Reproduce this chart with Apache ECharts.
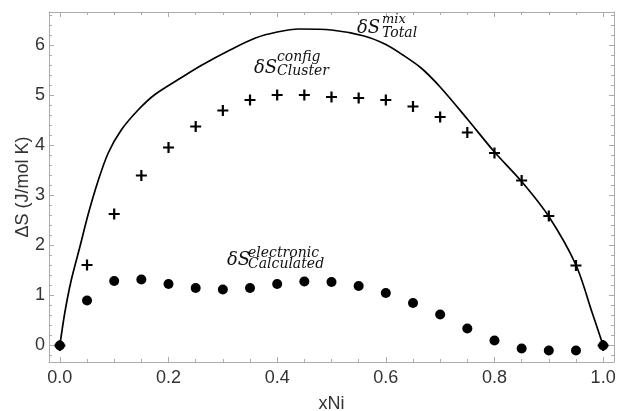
<!DOCTYPE html>
<html>
<head>
<meta charset="utf-8">
<script src="https://cdn.jsdelivr.net/npm/echarts@6/dist/echarts.min.js"></script>
<style>
html,body{margin:0;padding:0;background:#fff;}
#chart{width:619px;height:411px;}
</style>
</head>
<body>
<div id="chart"></div>
<script>
// ---- data ----
const xNi = [0, 0.05, 0.1, 0.15, 0.2, 0.25, 0.3, 0.35, 0.4, 0.45, 0.5, 0.55, 0.6, 0.65, 0.7, 0.75, 0.8, 0.85, 0.9, 0.95, 1.0];
const configCluster = [0, 1.61, 2.63, 3.40, 3.96, 4.38, 4.70, 4.91, 5.01, 5.01, 4.97, 4.95, 4.91, 4.78, 4.57, 4.26, 3.85, 3.30, 2.59, 1.60, 0];
const electronicCalc = [0, 0.90, 1.29, 1.32, 1.23, 1.15, 1.12, 1.15, 1.23, 1.28, 1.27, 1.19, 1.05, 0.85, 0.62, 0.34, 0.10, -0.06, -0.10, -0.10, 0];
const totalX = [0, 0.009, 0.021, 0.037, 0.052, 0.07, 0.089, 0.113, 0.144, 0.175, 0.224, 0.26, 0.315, 0.36, 0.40, 0.44, 0.50, 0.56, 0.60, 0.63, 0.665, 0.70, 0.75, 0.80, 0.85, 0.90, 0.95, 0.98, 1.0];
const totalY = [0, 0.65, 1.31, 1.98, 2.62, 3.28, 3.85, 4.31, 4.71, 5.02, 5.36, 5.60, 5.92, 6.15, 6.27, 6.33, 6.31, 6.19, 6.02, 5.82, 5.55, 5.17, 4.53, 3.87, 3.28, 2.58, 1.61, 0.65, 0];
const xMajorTicks = [0, 0.2, 0.4, 0.6, 0.8, 1.0];
const xMinorTicks = [0.05, 0.1, 0.15, 0.25, 0.3, 0.35, 0.45, 0.5, 0.55, 0.65, 0.7, 0.75, 0.85, 0.9, 0.95];
const yMajorTicks = [0, 1, 2, 3, 4, 5, 6];
const yMinorTicks = [-0.2, 0.2, 0.4, 0.6, 0.8, 1.2, 1.4, 1.6, 1.8, 2.2, 2.4, 2.6, 2.8, 3.2, 3.4, 3.6, 3.8, 4.2, 4.4, 4.6, 4.8, 5.2, 5.4, 5.6, 5.8, 6.2, 6.4, 6.6];
const xTitle = 'xNi';
const yTitle = 'ΔS (J/mol K)';

// ---- layout ----
const XMIN = -0.02, XMAX = 1.02, YMIN = -0.33, YMAX = 6.67;
const AX = '#acacac';
const LBL = '#333';
const SANS = '"Liberation Sans", Arial, sans-serif';
const SERIF = '"DejaVu Serif", serif';

function xa(pos, ticks, len, line, labels) {
  return {
    type: 'value', position: pos, min: XMIN, max: XMAX,
    splitLine: {show: false},
    axisLine: {show: line, onZero: false, lineStyle: {color: AX, width: 1}},
    axisTick: {show: true, inside: true, length: len, customValues: ticks, lineStyle: {color: AX, width: 1}},
    axisLabel: labels ? {show: true, customValues: ticks, formatter: v => v.toFixed(1), fontSize: 18, color: LBL, fontFamily: SANS, margin: 7} : {show: false}
  };
}
function ya(pos, ticks, len, line, labels) {
  return {
    type: 'value', position: pos, min: YMIN, max: YMAX,
    splitLine: {show: false},
    axisLine: {show: line, onZero: false, lineStyle: {color: AX, width: 1}},
    axisTick: {show: true, inside: true, length: len, customValues: ticks, lineStyle: {color: AX, width: 1}},
    axisLabel: labels ? {show: true, customValues: ticks, formatter: v => String(v), fontSize: 18, color: LBL, fontFamily: SANS, margin: 4} : {show: false}
  };
}

const xAxes = [
  Object.assign(xa('bottom', xMajorTicks, 5, true, true), {name: xTitle, nameLocation: 'middle', nameGap: 33, nameMoveOverlap: false, nameTextStyle: {fontSize: 18, color: LBL, fontFamily: SANS}}),
  xa('bottom', xMinorTicks, 3, false, false),
  xa('top', xMajorTicks, 5, true, false),
  xa('top', xMinorTicks, 3, false, false)
];
const yAxes = [
  Object.assign(ya('left', yMajorTicks, 5, true, true), {name: yTitle, nameLocation: 'middle', nameGap: 17, nameMoveOverlap: false, nameRotate: 90, nameTextStyle: {fontSize: 18, color: LBL, fontFamily: SANS}}),
  ya('left', yMinorTicks, 3, false, false),
  ya('right', yMajorTicks, 5, true, false),
  ya('right', yMinorTicks, 3, false, false)
];

const plusPath = 'path://M4,0 H6 V4 H10 V6 H6 V10 H4 V6 H0 V4 H4 Z';

function txt(s, x, y, size) {
  return {type: 'text', x: x, y: y, z: 100,
    style: {text: s, font: 'italic ' + size + 'px ' + SERIF, fill: '#111', align: 'left', verticalAlign: 'middle'}};
}

const chart = echarts.init(document.getElementById('chart'), null, {renderer: 'canvas'});
chart.setOption({
  animation: false,
  backgroundColor: '#fff',
  grid: {left: 49, top: 12, width: 565, height: 350, containLabel: false, outerBoundsMode: 'none'},
  xAxis: xAxes,
  yAxis: yAxes,
  series: [
    {type: 'line', data: totalX.map((x, i) => [x, totalY[i]]), showSymbol: false, smooth: 0.3,
     lineStyle: {color: '#000', width: 1.7}, z: 2},
    {type: 'scatter', data: xNi.map((x, i) => [x, configCluster[i]]), symbol: plusPath, symbolSize: 11,
     itemStyle: {color: '#000', opacity: 1}, z: 3},
    {type: 'scatter', data: xNi.map((x, i) => [x, electronicCalc[i]]), symbol: 'circle', symbolSize: 10,
     itemStyle: {color: '#000', opacity: 1}, z: 4}
  ],
  graphic: [
    txt('δS', 357, 28, 18), txt('mix', 382, 20, 13), txt('Total', 382, 33, 14),
    txt('δS', 254, 68, 18), txt('config', 277, 57, 14), txt('Cluster', 277, 71, 14),
    txt('δS', 227, 260, 18), txt('electronic', 248, 253, 14), txt('Calculated', 248, 264, 14)
  ]
});
</script>
</body>
</html>
